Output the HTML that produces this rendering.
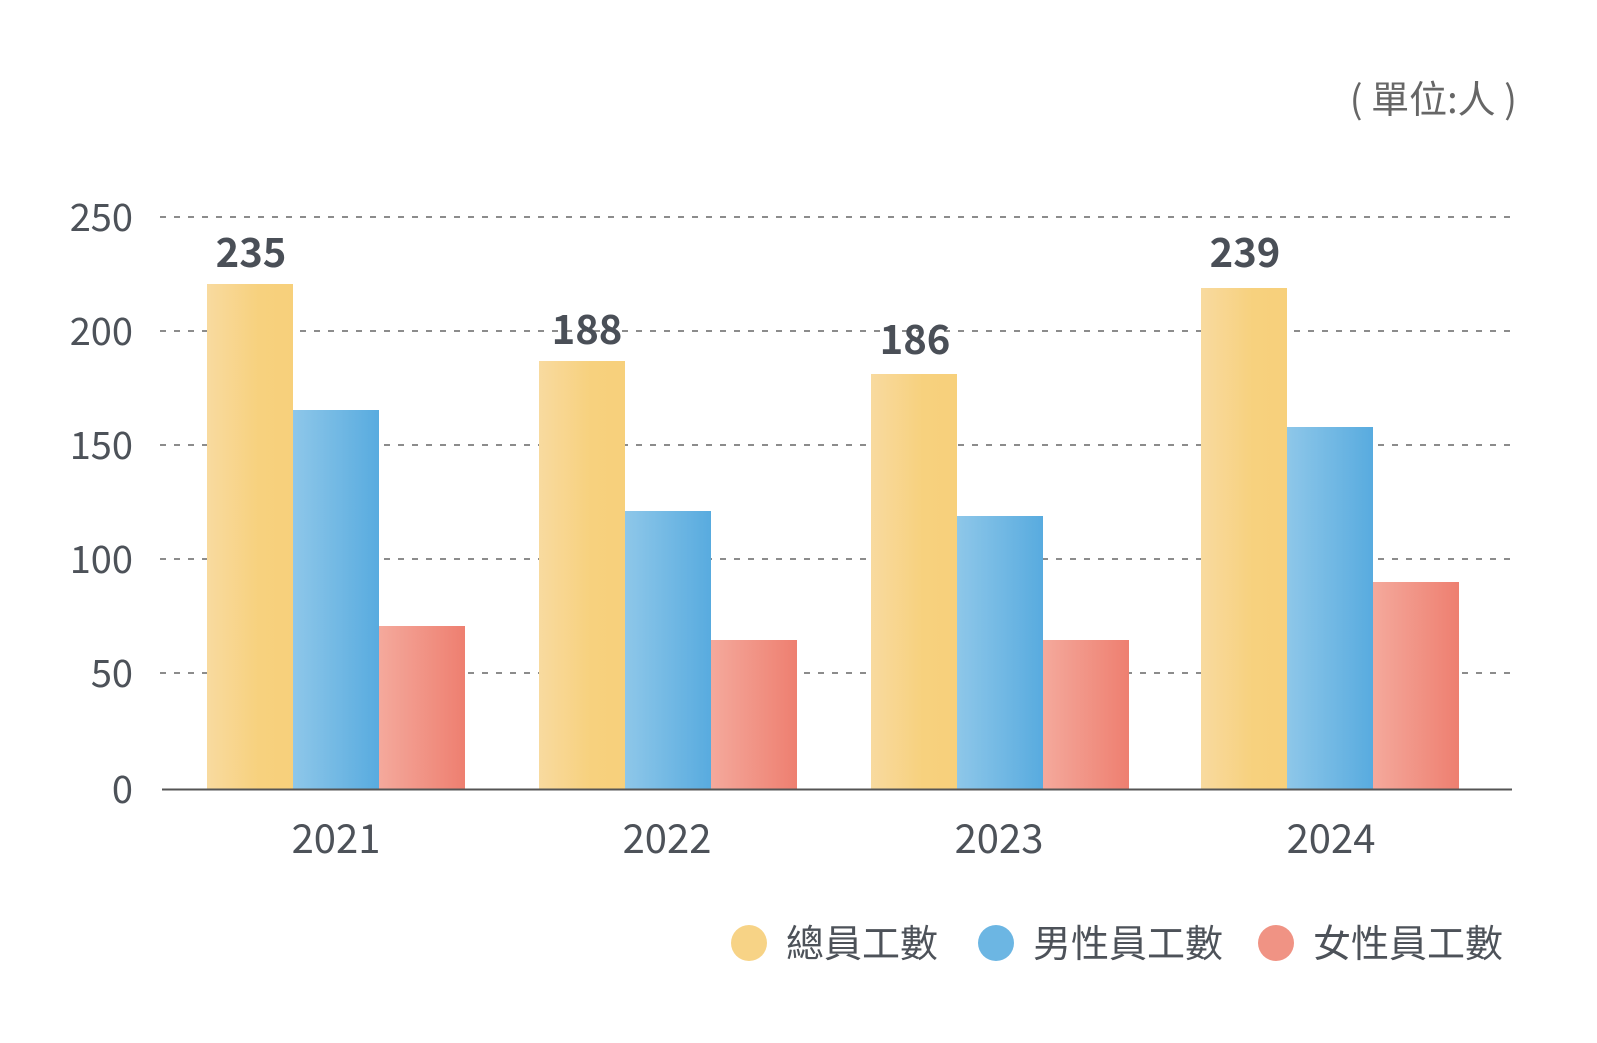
<!DOCTYPE html>
<html><head><meta charset="utf-8"><style>
html,body{margin:0;padding:0;background:#fff;}
svg{display:block;}
text{font-family:"Noto Sans CJK TC","Liberation Sans",sans-serif;}
</style></head><body>
<svg width="1597" height="1043" viewBox="0 0 1597 1043" xmlns="http://www.w3.org/2000/svg">
<defs>
<linearGradient id="gy" x1="0" x2="1" y1="0" y2="0"><stop offset="0" stop-color="#f8da9f"/><stop offset="0.6" stop-color="#f7d17e"/><stop offset="1" stop-color="#f7d07b"/></linearGradient>
<linearGradient id="gb" x1="0" x2="1" y1="0" y2="0"><stop offset="0" stop-color="#8ec7e9"/><stop offset="1" stop-color="#58abdf"/></linearGradient>
<linearGradient id="gr" x1="0" x2="1" y1="0" y2="0"><stop offset="0" stop-color="#f4a99c"/><stop offset="1" stop-color="#ee7f70"/></linearGradient>
</defs>
<g stroke="#666" stroke-width="1.5" stroke-dasharray="6,8">
<line x1="160" y1="217" x2="1515" y2="217"/>
<line x1="160" y1="331" x2="1515" y2="331"/>
<line x1="160" y1="445" x2="1515" y2="445"/>
<line x1="160" y1="559" x2="1515" y2="559"/>
<line x1="160" y1="673" x2="1515" y2="673"/>
</g>
<g font-size="38" fill="#4d5259" text-anchor="end">
<text x="133" y="231">250</text>
<text x="133" y="345">200</text>
<text x="133" y="459">150</text>
<text x="133" y="573">100</text>
<text x="133" y="687">50</text>
<text x="133" y="803">0</text>
</g>
<rect x="207" y="284" width="86" height="505" fill="url(#gy)"/>
<rect x="293" y="410" width="86" height="379" fill="url(#gb)"/>
<rect x="379" y="626" width="86" height="163" fill="url(#gr)"/>
<rect x="539" y="361" width="86" height="428" fill="url(#gy)"/>
<rect x="625" y="511" width="86" height="278" fill="url(#gb)"/>
<rect x="711" y="640" width="86" height="149" fill="url(#gr)"/>
<rect x="871" y="374" width="86" height="415" fill="url(#gy)"/>
<rect x="957" y="516" width="86" height="273" fill="url(#gb)"/>
<rect x="1043" y="640" width="86" height="149" fill="url(#gr)"/>
<rect x="1201" y="288" width="86" height="501" fill="url(#gy)"/>
<rect x="1287" y="427" width="86" height="362" fill="url(#gb)"/>
<rect x="1373" y="582" width="86" height="207" fill="url(#gr)"/>
<line x1="162" y1="789.5" x2="1512" y2="789.5" stroke="#555" stroke-width="2"/>
<g font-size="40" font-weight="bold" fill="#4a4f57" text-anchor="middle">
<text x="251" y="267">235</text>
<text x="587" y="344">188</text>
<text x="915" y="354">186</text>
<text x="1245" y="267">239</text>
</g>
<g font-size="40" fill="#4d5259" text-anchor="middle">
<text x="336" y="853">2021</text>
<text x="667" y="853">2022</text>
<text x="999" y="853">2023</text>
<text x="1331" y="853">2024</text>
</g>
<text x="1517" y="113" font-size="38" fill="#666" text-anchor="end">( 單位:人 )</text>
<circle cx="749" cy="943" r="18" fill="#f7d386"/>
<circle cx="996" cy="943" r="18" fill="#6cb6e3"/>
<circle cx="1276" cy="943" r="18" fill="#f09384"/>
<g font-size="38" fill="#4d5259">
<text x="786" y="957">總員工數</text>
<text x="1033" y="957">男性員工數</text>
<text x="1313" y="957">女性員工數</text>
</g>
</svg>
</body></html>
